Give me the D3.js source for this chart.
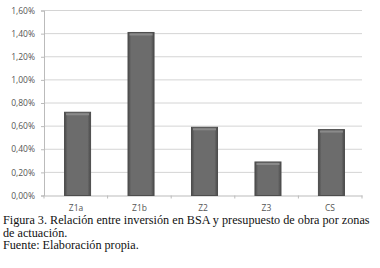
<!DOCTYPE html>
<html lang="es">
<head>
<meta charset="UTF-8">
<title>Figura 3</title>
<script src="https://d3js.org/d3.v7.min.js"></script>
<style>
  body { margin: 0; background: #fff; }
  .tick text { font-family: "Open Sans", "DejaVu Sans", sans-serif; font-size: 8.5px; fill: #555; }
  .caption { font-family: "Liberation Serif", "Times New Roman", serif; font-size: 12.2px; fill: #111; }
</style>
</head>
<body>
<div id="chart"></div>
<script>
// data
const zonas = ["Z1a", "Z1b", "Z2", "Z3", "CS"];
const valores = [0.72, 1.41, 0.59, 0.29, 0.57];
const yTicks = [0, 0.2, 0.4, 0.6, 0.8, 1.0, 1.2, 1.4, 1.6];
const caption = [
  "Figura 3. Relación entre inversión en BSA y presupuesto de obra por zonas",
  "de actuación.",
  "Fuente: Elaboración propia."
];

const width = 380, height = 268;
const plot = { left: 44, right: 362, top: 10.5, bottom: 195.5 };

const svg = d3.select("#chart").append("svg")
  .attr("width", width)
  .attr("height", height);

const x = d3.scaleBand().domain(zonas).range([plot.left, plot.right]).paddingInner(0.59).paddingOuter(0.3);
const y = d3.scaleLinear().domain([0, 1.6]).range([plot.bottom, plot.top]);

// gradient for the bars
const defs = svg.append("defs");
const grad = defs.append("linearGradient").attr("id", "barGrad").attr("x1", "0").attr("x2", "1");
grad.append("stop").attr("offset", "0").attr("stop-color", "#4a4a4a");
grad.append("stop").attr("offset", "0.12").attr("stop-color", "#6c6c6c");
grad.append("stop").attr("offset", "0.88").attr("stop-color", "#6c6c6c");
grad.append("stop").attr("offset", "1").attr("stop-color", "#4a4a4a");

// gridlines
svg.append("g")
  .selectAll("line")
  .data(yTicks.slice(1))
  .enter().append("line")
  .attr("x1", plot.left).attr("x2", plot.right)
  .attr("y1", d => y(d)).attr("y2", d => y(d))
  .attr("stroke", "#d4d4d4").attr("stroke-width", 1);

// y axis
const yAxis = d3.axisLeft(y).tickValues(yTicks).tickSize(3).tickPadding(6)
  .tickFormat(d => d3.format(".2f")(d).replace(".", ",") + "%");
const gy = svg.append("g").attr("transform", "translate(" + plot.left + ",0)").call(yAxis);
gy.select(".domain").attr("stroke", "#bbb");
gy.selectAll(".tick line").attr("stroke", "#bbb");

// x axis
const xAxis = d3.axisBottom(x).tickSize(0).tickPadding(9);
const gx = svg.append("g").attr("transform", "translate(0," + plot.bottom + ")").call(xAxis);
gx.select(".domain").attr("stroke", "#bbb");
const step = (plot.right - plot.left) / zonas.length;
gx.selectAll(".sep")
  .data(d3.range(zonas.length + 1))
  .enter().append("line")
  .attr("x1", i => plot.left + i * step).attr("x2", i => plot.left + i * step)
  .attr("y1", 0).attr("y2", 3)
  .attr("stroke", "#bbb");

// bars
const bars = svg.append("g").selectAll("g").data(zonas).enter().append("g");
bars.append("rect")
  .attr("x", (d, i) => x(d) + 1.5)
  .attr("y", (d, i) => y(valores[i]))
  .attr("width", x.bandwidth())
  .attr("height", (d, i) => y(0) - y(valores[i]))
  .attr("fill", "url(#barGrad)")
  .attr("stroke", "#4d4d4d")
  .attr("stroke-width", 1);
bars.append("rect")
  .attr("x", (d, i) => x(d) + 3)
  .attr("y", (d, i) => y(valores[i]) + 1)
  .attr("width", x.bandwidth() - 3)
  .attr("height", 2)
  .attr("fill", "#8a8a8a");

// caption
svg.append("g").selectAll("text")
  .data(caption)
  .enter().append("text")
  .attr("class", "caption")
  .attr("x", 3)
  .attr("y", (d, i) => 224 + i * 12.5)
  .text(d => d);
</script>
</body>
</html>
